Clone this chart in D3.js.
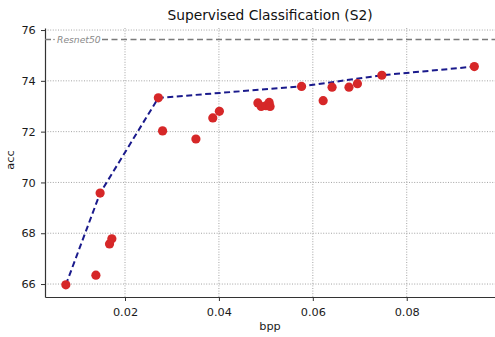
<!DOCTYPE html>
<html>
<head>
<meta charset="utf-8">
<script src="https://cdn.jsdelivr.net/npm/d3@7"></script>
<style>
  html, body { margin: 0; padding: 0; background: #fff; }
  svg { display: block; font-family: "DejaVu Sans", sans-serif; }
</style>
</head>
<body>
<div id="chart"></div>
<script>
// data
const bpp = [0.0074, 0.0138, 0.0147, 0.0167, 0.0172, 0.0271, 0.0280, 0.0351, 0.0387, 0.0401,
             0.0483, 0.0490, 0.0500, 0.0507, 0.0509, 0.0576, 0.0622, 0.0641, 0.0677, 0.0695,
             0.0747, 0.0944];
const acc = [65.97, 66.35, 69.58, 67.58, 67.78, 73.33, 72.03, 71.71, 72.54, 72.80,
             73.13, 72.99, 73.02, 73.15, 72.99, 73.78, 73.22, 73.75, 73.75, 73.89,
             74.22, 74.56];
const frontier = [0, 2, 5, 15, 20, 21]; // indices of the dashed-line points
const baselineAcc = 75.63;
const baselineName = "Resnet50";
const xTicks = [0.02, 0.04, 0.06, 0.08];
const yTicks = [66, 68, 70, 72, 74, 76];

const W = 495, H = 337;
const margin = { top: 28, right: 0, bottom: 40, left: 45 };
const w = W - margin.left - margin.right;
const h = H - margin.top - margin.bottom;

const svg = d3.select("#chart").append("svg")
  .attr("width", W).attr("height", H);

const g = svg.append("g").attr("transform", `translate(${margin.left},${margin.top})`);

const x = d3.scaleLinear().domain([0.00296, 0.0988]).range([0, w]);
const y = d3.scaleLinear().domain([65.49, 76.08]).range([h, 0]);

/* grid */
g.append("g").selectAll("line").data(xTicks).join("line")
  .attr("x1", d => x(d)).attr("x2", d => x(d)).attr("y1", 0).attr("y2", h)
  .attr("stroke", "#9a9a9a").attr("stroke-width", 0.9).attr("stroke-dasharray", "1,1.6");
g.append("g").selectAll("line").data(yTicks).join("line")
  .attr("y1", d => y(d)).attr("y2", d => y(d)).attr("x1", 0).attr("x2", w)
  .attr("stroke", "#9a9a9a").attr("stroke-width", 0.9).attr("stroke-dasharray", "1,1.6");

/* axes */
const xAxis = g.append("g").attr("transform", `translate(0,${h})`)
  .call(d3.axisBottom(x).tickValues(xTicks).tickFormat(d3.format(".2f")).tickSize(4).tickSizeOuter(0));
const yAxis = g.append("g")
  .call(d3.axisLeft(y).tickValues(yTicks).tickFormat(d3.format("d")).tickSize(4).tickSizeOuter(0));
[xAxis, yAxis].forEach(a => {
  a.selectAll("text").attr("fill", "#1a1a1a").style("font-size", "11.3px").style("font-family", "DejaVu Sans");
  a.selectAll("line").attr("stroke", "#333");
  a.select(".domain").attr("stroke", "#333").attr("stroke-width", 1.2);
});
xAxis.selectAll("text").attr("dy", "1.1em");
yAxis.selectAll("text").attr("dx", "-0.2em");

/* baseline */
g.append("line")
  .attr("x1", 0).attr("x2", w).attr("y1", y(baselineAcc)).attr("y2", y(baselineAcc))
  .attr("stroke", "#7a7a7a").attr("stroke-width", 1.4).attr("stroke-dasharray", "6,3.5");
g.append("rect")
  .attr("x", 6).attr("y", y(baselineAcc) - 6).attr("width", 50).attr("height", 12)
  .attr("fill", "#fff");
g.append("circle")
  .attr("cx", 9).attr("cy", y(baselineAcc)).attr("r", 0.8).attr("fill", "#8a8a8a");
g.append("text")
  .attr("x", 12).attr("y", y(baselineAcc) + 3.5)
  .attr("fill", "#8a8a8a").style("font-size", "9.2px").style("font-style", "italic")
  .text(baselineName);

/* frontier */
const line = d3.line().x(i => x(bpp[i])).y(i => y(acc[i]));
g.append("path").datum(frontier)
  .attr("d", line).attr("fill", "none")
  .attr("stroke", "#1a1a8c").attr("stroke-width", 2).attr("stroke-dasharray", "6,3.5");

/* points */
g.append("g").selectAll("circle").data(d3.range(bpp.length)).join("circle")
  .attr("cx", i => x(bpp[i])).attr("cy", i => y(acc[i])).attr("r", 4.6)
  .attr("fill", "#d62728");

/* labels */
svg.append("text").attr("x", 270).attr("y", 20).attr("text-anchor", "middle")
  .style("font-size", "13.8px").attr("fill", "#111").text("Supervised Classification (S2)");
svg.append("text").attr("x", 270).attr("y", 330).attr("text-anchor", "middle")
  .style("font-size", "11.3px").attr("fill", "#1a1a1a").text("bpp");
svg.append("text").attr("transform", "translate(14,160) rotate(-90)").attr("text-anchor", "middle")
  .style("font-size", "11.3px").attr("fill", "#1a1a1a").text("acc");
</script>
</body>
</html>
